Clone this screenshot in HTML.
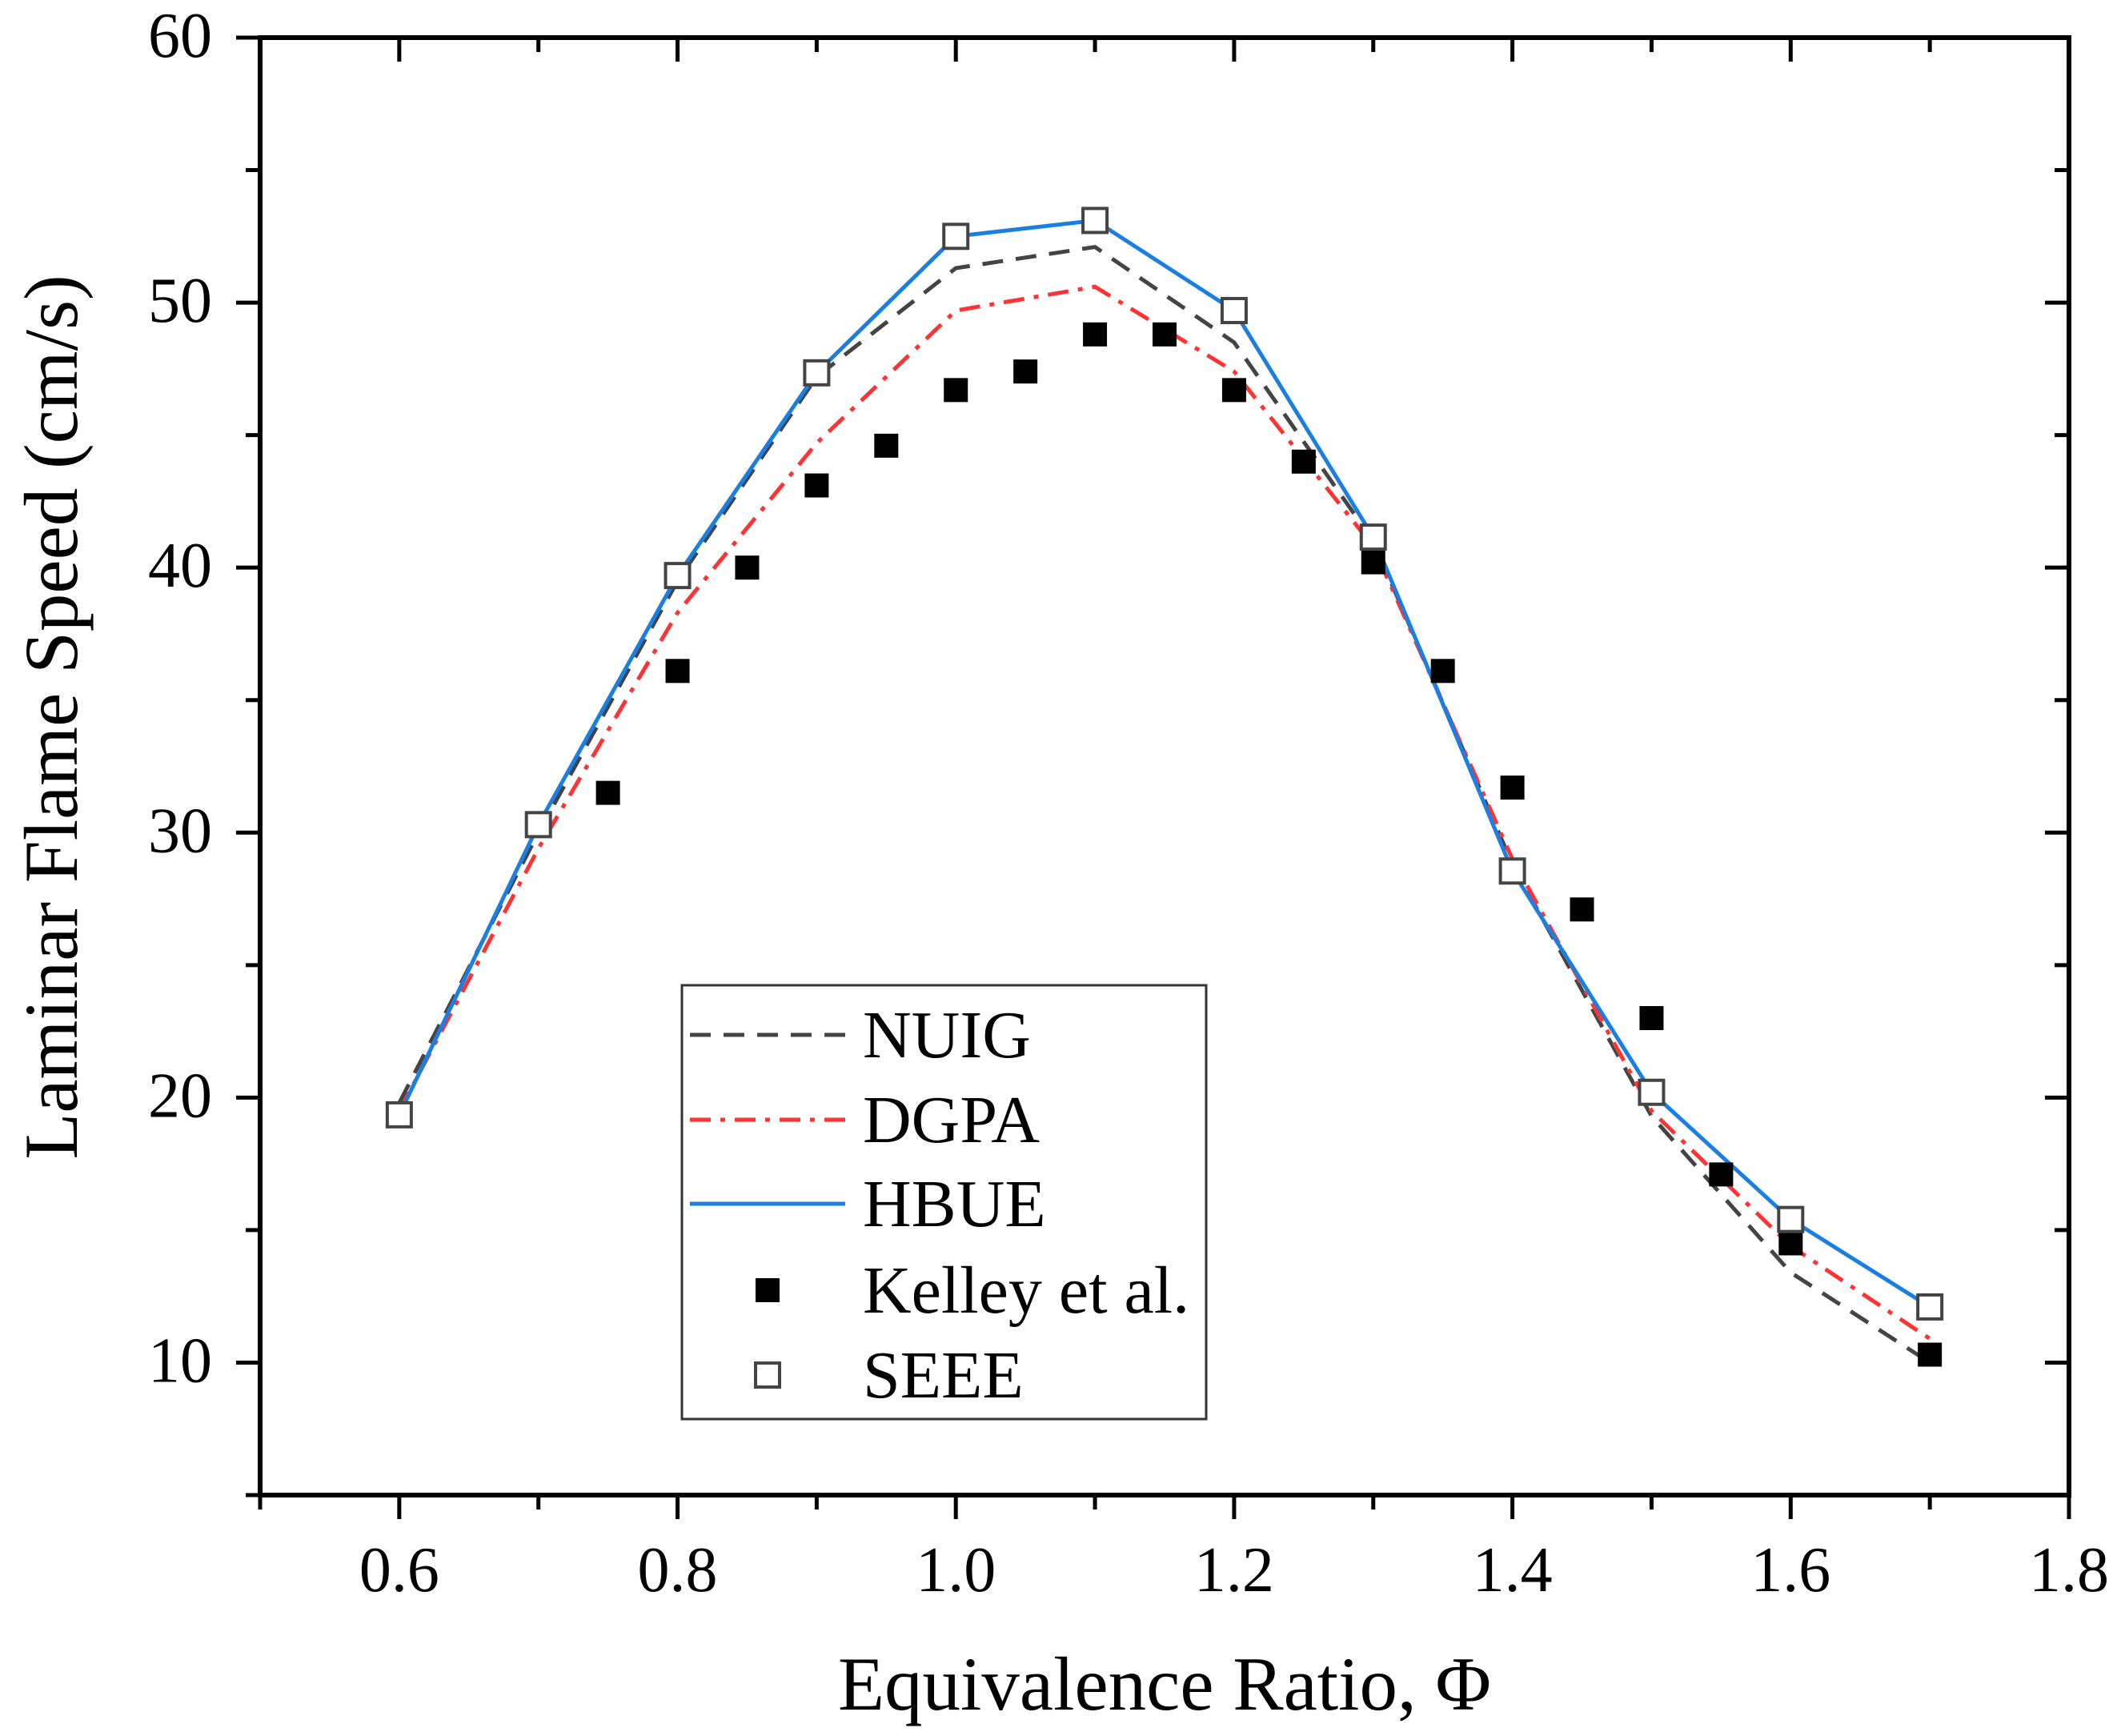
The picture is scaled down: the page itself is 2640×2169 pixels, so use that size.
<!DOCTYPE html>
<html><head><meta charset="utf-8"><style>
html,body{margin:0;padding:0;background:#fff}
svg{display:block}
text{font-family:"Liberation Serif",serif;fill:#000}
</style></head><body>
<svg id="chart" width="2640" height="2169" viewBox="0 0 2640 2169" xmlns="http://www.w3.org/2000/svg">
<g id="series"></g>
<g id="axes"></g>
<g id="legend"></g>
</svg>
<script>
const xTicks = [0.6, 0.8, 1.0, 1.2, 1.4, 1.6, 1.8];
const xTickLabels = ["0.6","0.8","1.0","1.2","1.4","1.6","1.8"];
const yTicks = [10, 20, 30, 40, 50, 60];
const yTickLabels = ["10","20","30","40","50","60"];
const simX = [0.6,0.7,0.8,0.9,1.0,1.1,1.2,1.3,1.4,1.5,1.6,1.7];
const nuig = [19.8,30.0,39.5,47.2,51.3,52.1,48.5,41.0,28.8,19.3,13.4,10.0];
const dgpa = [19.5,29.4,38.3,44.7,49.7,50.6,47.4,40.8,29.0,19.5,14.4,10.9];
const hbue = [19.35,30.3,39.7,47.35,52.5,53.1,49.7,41.15,28.55,20.2,15.4,12.1];
const seee = [19.35,30.3,39.7,47.35,52.5,53.1,49.7,41.15,28.55,20.2,15.4,12.1];
const kelleyX = [0.75,0.8,0.85,0.9,0.95,1.0,1.05,1.1,1.15,1.2,1.25,1.3,1.35,1.4,1.45,1.5,1.55,1.6,1.7];
const kelley = [31.5,36.1,40.0,43.1,44.6,46.7,47.4,48.8,48.8,46.7,44.0,40.2,36.1,31.7,27.1,23.0,17.1,14.5,10.3];

const L=325,R=2585,T=47,B=1868;
const X0=0.5,X1=1.8,Y0=5,Y1=60;
const sx=v=>L+(v-X0)/(X1-X0)*(R-L);
const sy=v=>B-(v-Y0)/(Y1-Y0)*(B-T);
const NS="http://www.w3.org/2000/svg";
function mk(tag,attrs,parent){const e=document.createElementNS(NS,tag);for(const k in attrs)e.setAttribute(k,attrs[k]);parent.appendChild(e);return e;}
const gS=document.getElementById('series'),gA=document.getElementById('axes'),gL=document.getElementById('legend');

function line(xs,ys,stroke,dash,name){
  const p=mk('polyline',{points:xs.map((x,i)=>sx(x)+','+sy(ys[i])).join(' '),fill:'none',stroke:stroke,'stroke-width':5,'stroke-dasharray':dash||'none'},gS);
  
  
}
line(simX,nuig,'#444','26,16','nuig-line');
line(simX,dgpa,'#ff3333','26,12,6,12','dgpa-line');
line(simX,hbue,'#1a7fe0',null,'hbue-line');
const ms=30;
kelleyX.forEach((x,i)=>{
  const r=mk('rect',{x:sx(x)-ms/2,y:sy(kelley[i])-ms/2,width:ms,height:ms,fill:'#000'},gS);
  
  
});
simX.forEach((x,i)=>{
  const r=mk('rect',{x:sx(x)-ms/2,y:sy(seee[i])-ms/2,width:ms,height:ms,fill:'#fff',stroke:'#444','stroke-width':4},gS);
  
  
});

const fr=mk('rect',{x:L,y:T,width:R-L,height:B-T,fill:'none',stroke:'#000','stroke-width':6},gA);


for(let v=0.5;v<=1.8001;v+=0.1){
  const major=Math.abs(Math.round(v*10)%2)===0;
  const len=major?30:18;
  mk('line',{x1:sx(v),x2:sx(v),y1:B,y2:B+len,stroke:'#000','stroke-width':5},gA);
  mk('line',{x1:sx(v),x2:sx(v),y1:T,y2:T+len,stroke:'#000','stroke-width':5},gA);
}
xTicks.forEach((v,i)=>{
  const t=mk('text',{x:sx(v),y:1988,'font-size':80,'text-anchor':'middle'},gA);
  t.textContent=xTickLabels[i];
  
  
});
for(let v=5;v<=60;v+=5){
  const major=v%10===0;
  const len=major?30:18;
  mk('line',{x1:L-len,x2:L,y1:sy(v),y2:sy(v),stroke:'#000','stroke-width':5},gA);
  mk('line',{x1:R-len,x2:R,y1:sy(v),y2:sy(v),stroke:'#000','stroke-width':5},gA);
}
yTicks.forEach((v,i)=>{
  const t=mk('text',{x:265,y:sy(v)+24,'font-size':80,'text-anchor':'end'},gA);
  t.textContent=yTickLabels[i];
  
  
});
const xt=mk('text',{x:1455,y:2136,'font-size':95,'text-anchor':'middle'},gA);
xt.textContent='Equivalence Ratio, Φ';


const yt=mk('text',{x:0,y:0,'font-size':95,'text-anchor':'middle',transform:'translate(96,896) rotate(-90)'},gA);
yt.textContent='Laminar Flame Speed (cm/s)';



const lb=mk('rect',{x:852,y:1231,width:655,height:542,fill:'#fff',stroke:'#333','stroke-width':3},gL);


const legNames=['NUIG','DGPA','HBUE','Kelley et al.','SEEE'];
const legY=[1293,1399,1504,1612,1718];
legNames.forEach((n,i)=>{
  const y=legY[i];
  if(i===0) mk('line',{x1:862,x2:1056,y1:y,y2:y,stroke:'#444','stroke-width':5,'stroke-dasharray':'26,16'},gL);
  if(i===1) mk('line',{x1:862,x2:1056,y1:y,y2:y,stroke:'#ff3333','stroke-width':5,'stroke-dasharray':'26,12,6,12'},gL);
  if(i===2) mk('line',{x1:862,x2:1056,y1:y,y2:y,stroke:'#1a7fe0','stroke-width':5},gL);
  if(i===3) mk('rect',{x:944,y:y-15,width:30,height:30,fill:'#000'},gL);
  if(i===4) mk('rect',{x:944,y:y-15,width:30,height:30,fill:'#fff',stroke:'#444','stroke-width':4},gL);
  const t=mk('text',{x:1078,y:y+28,'font-size':84},gL);
  t.textContent=n;
  
  
});
</script>
</body></html>
